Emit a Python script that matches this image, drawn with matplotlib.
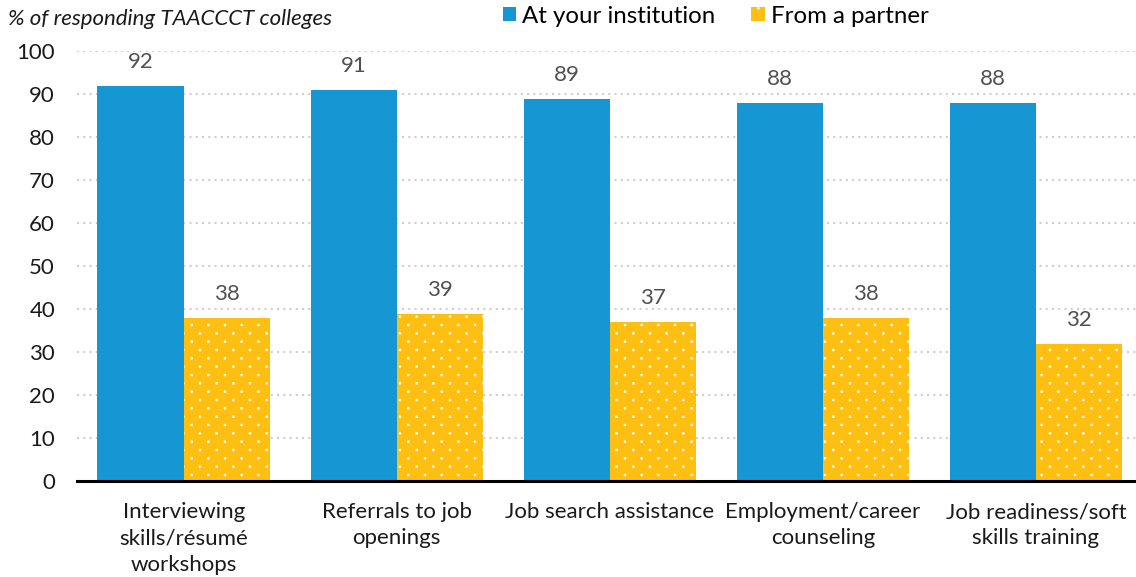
import numpy as np
import matplotlib.pyplot as plt
import matplotlib.hatch as mhatch
from matplotlib.path import Path
from matplotlib.patches import Patch

plt.rcParams['font.family'] = ['Lato', 'DejaVu Sans']
plt.rcParams['hatch.color'] = 'white'
plt.rcParams['hatch.linewidth'] = 0.5

categories = ['Interviewing\nskills/résumé\nworkshops', 'Referrals to job\nopenings',
              'Job search assistance', 'Employment/career\ncounseling',
              'Job readiness/soft\nskills training']
at_institution = [92, 91, 89, 88, 88]
from_partner = [38, 39, 37, 38, 32]
series_names = ['At your institution', 'From a partner']

blue = '#1696d2'
yellow = '#fdbf11'


# '.' hatch drawn as small square dots on a staggered (diamond) grid
class StaggeredDots(mhatch.HatchPatternBase):
    size = 0.008

    def __init__(self, hatch, density):
        cols = hatch.count('.') * density
        rows = 2 * cols
        self.points = []
        if cols:
            for r in range(rows + 1):
                c = 0.0 if r % 2 == 0 else 0.5
                while c <= cols:
                    self.points.append((c / cols, r / rows))
                    c += 1.0
        self.num_vertices = len(self.points) * 5

    def set_vertices_and_codes(self, vertices, codes):
        sq = np.array([[-1, -1], [1, -1], [1, 1], [-1, 1], [-1, -1]]) * self.size
        cd = [Path.MOVETO, Path.LINETO, Path.LINETO, Path.LINETO, Path.CLOSEPOLY]
        for i, (px, py) in enumerate(self.points):
            vertices[i * 5:(i + 1) * 5] = sq + (px, py)
            codes[i * 5:(i + 1) * 5] = cd


mhatch._hatch_types = [StaggeredDots if t is mhatch.SmallFilledCircles else t
                       for t in mhatch._hatch_types]

fig = plt.figure(figsize=(11.36, 5.77), dpi=100)
ax = fig.add_axes([0.068, 0.166, 0.932, 0.745])

x = np.arange(len(categories))
w = 0.405
b1 = ax.bar(x - w / 2, at_institution, w, color=blue, linewidth=0, zorder=3)
b2 = ax.bar(x + w / 2, from_partner, w, color=yellow, linewidth=0,
            hatch='.', zorder=3)

for bars, vals in [(b1, at_institution), (b2, from_partner)]:
    for rect, v in zip(bars, vals):
        ax.text(rect.get_x() + rect.get_width() / 2, v + 3.2, str(v),
                ha='center', va='bottom', fontsize=16, color='#505050')

ax.set_ylim(0, 100)
ax.set_xlim(-0.5, 4.47)
ax.set_yticks(range(0, 101, 10))
ax.set_xticks(x)
ax.set_xticklabels(categories, fontsize=16, color='#1a1a1a', linespacing=1.4)
ax.tick_params(axis='y', labelsize=16, length=0, pad=16, colors='#1a1a1a')
ax.tick_params(axis='x', length=0, pad=15)
ax.grid(axis='y', color='#cfcfcf', linestyle=(0, (1, 2)), linewidth=1.5, zorder=0)
for s in ['top', 'right', 'left']:
    ax.spines[s].set_visible(False)
ax.spines['bottom'].set_linewidth(2.2)
ax.spines['bottom'].set_color('black')
ax.spines['bottom'].set_zorder(4)

fig.text(0.007, 0.967, '% of responding TAACCCT colleges', fontsize=16,
         style='italic', va='center', ha='left', color='#1a1a1a')

handles = [Patch(facecolor=blue, linewidth=0),
           Patch(facecolor=yellow, hatch='.', linewidth=0)]
fig.legend(handles, series_names, loc='center', bbox_to_anchor=(0.63, 0.972),
           ncol=2, frameon=False, fontsize=17.3, handlelength=0.55, handleheight=0.55,
           handletextpad=0.25, columnspacing=1.5)

fig.savefig('out.png', dpi=100)
